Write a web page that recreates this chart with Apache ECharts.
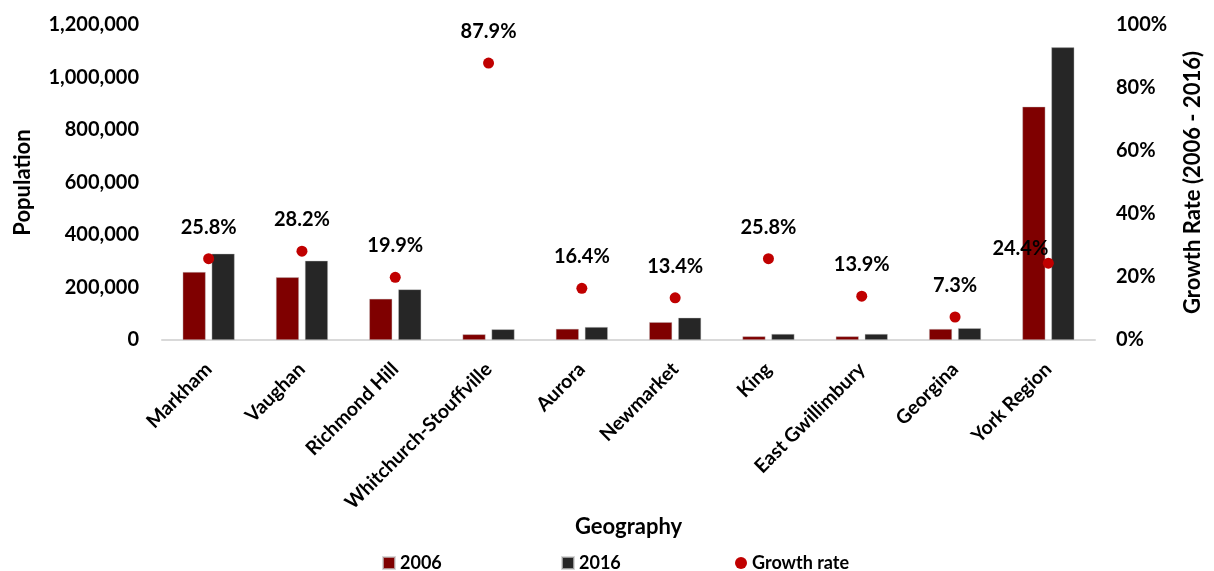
<!DOCTYPE html>
<html>
<head>
<meta charset="utf-8">
<title>York Region population, 2006 and 2016</title>
<script src="https://cdn.jsdelivr.net/npm/echarts@6/dist/echarts.min.js"></script>
<style>
  html, body { margin: 0; padding: 0; background: #ffffff; }
  #chart { width: 1214px; height: 571px; }
</style>
</head>
<body>
<div id="chart"></div>
<script>
// Municipalities of York Region
const categories = [
  'Markham', 'Vaughan', 'Richmond Hill', 'Whitchurch-Stouffville', 'Aurora',
  'Newmarket', 'King', 'East Gwillimbury', 'Georgina', 'York Region'
];
// Population counts
const pop2006 = [259000, 239000, 157000, 21700, 42500, 68000, 14000, 14000, 42000, 889000];
const pop2016 = [329000, 302000, 193000, 40800, 49500, 85000, 23000, 23000, 45000, 1115000];
// Growth rate 2006 - 2016, in percent
const growthRate = [25.8, 28.2, 19.9, 87.9, 16.4, 13.4, 25.8, 13.9, 7.3, 24.4];

// Axis scales
const popMax = 1200000, popStep = 200000;
const rateMax = 100, rateStep = 20;

const FONT = 'Lato, "Open Sans", "Noto Sans", sans-serif';
const C2006 = '#7f0000', C2016 = '#262626', CRATE = '#c00000';

const chart = echarts.init(document.getElementById('chart'), null, { renderer: 'canvas' });

// The regional total's label sits lower and to the left of its dot
const rateData = growthRate.map((v, i) =>
  categories[i] === 'York Region'
    ? { value: v, label: { offset: [-28, 17] } }
    : v
);

const legendText = { fontFamily: FONT, fontWeight: 'bold', fontSize: 18, color: '#000' };
const legendBase = { top: 549, itemWidth: 12, itemHeight: 12, itemGap: 0, textStyle: legendText };

chart.setOption({
  animation: false,
  backgroundColor: '#ffffff',
  textStyle: { fontFamily: FONT },
  grid: { left: 162, right: 119, top: 25, bottom: 231, containLabel: false },
  legend: [
    Object.assign({ data: [{ name: '2006', icon: 'rect' }], left: 377 }, legendBase),
    Object.assign({ data: [{ name: '2016', icon: 'rect' }], left: 556 }, legendBase),
    Object.assign({ data: [{ name: 'Growth rate', icon: 'circle' }], left: 730 }, legendBase)
  ],
  xAxis: {
    type: 'category',
    data: categories,
    name: 'Geography',
    nameLocation: 'middle',
    nameGap: 176,
    nameMoveOverlap: false,
    nameTextStyle: { fontFamily: FONT, fontWeight: 'bold', fontSize: 22, color: '#000', verticalAlign: 'top' },
    axisLine: { show: true, lineStyle: { color: '#d9d9d9', width: 2 } },
    axisTick: { show: false },
    axisLabel: {
      rotate: 45,
      interval: 0,
      margin: 26,
      fontFamily: FONT, fontWeight: 'bold', fontSize: 19.5, color: '#000'
    },
    splitLine: { show: false }
  },
  yAxis: [
    {
      type: 'value',
      min: 0, max: popMax, interval: popStep,
      name: 'Population',
      nameLocation: 'middle',
      nameRotate: 90,
      nameGap: 128,
      nameTextStyle: { fontFamily: FONT, fontWeight: 'bold', fontSize: 22, color: '#000' },
      axisLine: { show: false },
      axisTick: { show: false },
      splitLine: { show: false },
      axisLabel: {
        margin: 23,
        fontFamily: FONT, fontWeight: 'bold', fontSize: 20, color: '#000',
        formatter: v => v.toLocaleString('en-US')
      }
    },
    {
      type: 'value',
      position: 'right',
      min: 0, max: rateMax, interval: rateStep,
      name: 'Growth Rate (2006 - 2016)',
      nameLocation: 'middle',
      nameRotate: 90,
      nameGap: 87,
      nameTextStyle: { fontFamily: FONT, fontWeight: 'bold', fontSize: 22, color: '#000' },
      axisLine: { show: false },
      axisTick: { show: false },
      splitLine: { show: false },
      axisLabel: {
        margin: 21,
        fontFamily: FONT, fontWeight: 'bold', fontSize: 20, color: '#000',
        formatter: v => v + '%'
      }
    }
  ],
  series: [
    {
      name: '2006',
      type: 'bar',
      data: pop2006,
      barWidth: 23,
      barGap: '26%',
      itemStyle: { color: C2006, borderColor: 'rgba(200,200,200,0.7)', borderWidth: 0.6 }
    },
    {
      name: '2016',
      type: 'bar',
      data: pop2016,
      barWidth: 23,
      barGap: '26%',
      itemStyle: { color: C2016, borderColor: 'rgba(200,200,200,0.7)', borderWidth: 0.6 }
    },
    {
      name: 'Growth rate',
      type: 'scatter',
      yAxisIndex: 1,
      data: rateData,
      symbol: 'circle',
      symbolSize: 11,
      z: 5,
      itemStyle: { color: CRATE, opacity: 1 },
      label: {
        show: true,
        position: 'top',
        distance: 16,
        fontFamily: FONT, fontWeight: 'bold', fontSize: 20, color: '#000',
        formatter: p => p.value.toFixed(1) + '%'
      }
    }
  ]
});
</script>
</body>
</html>
